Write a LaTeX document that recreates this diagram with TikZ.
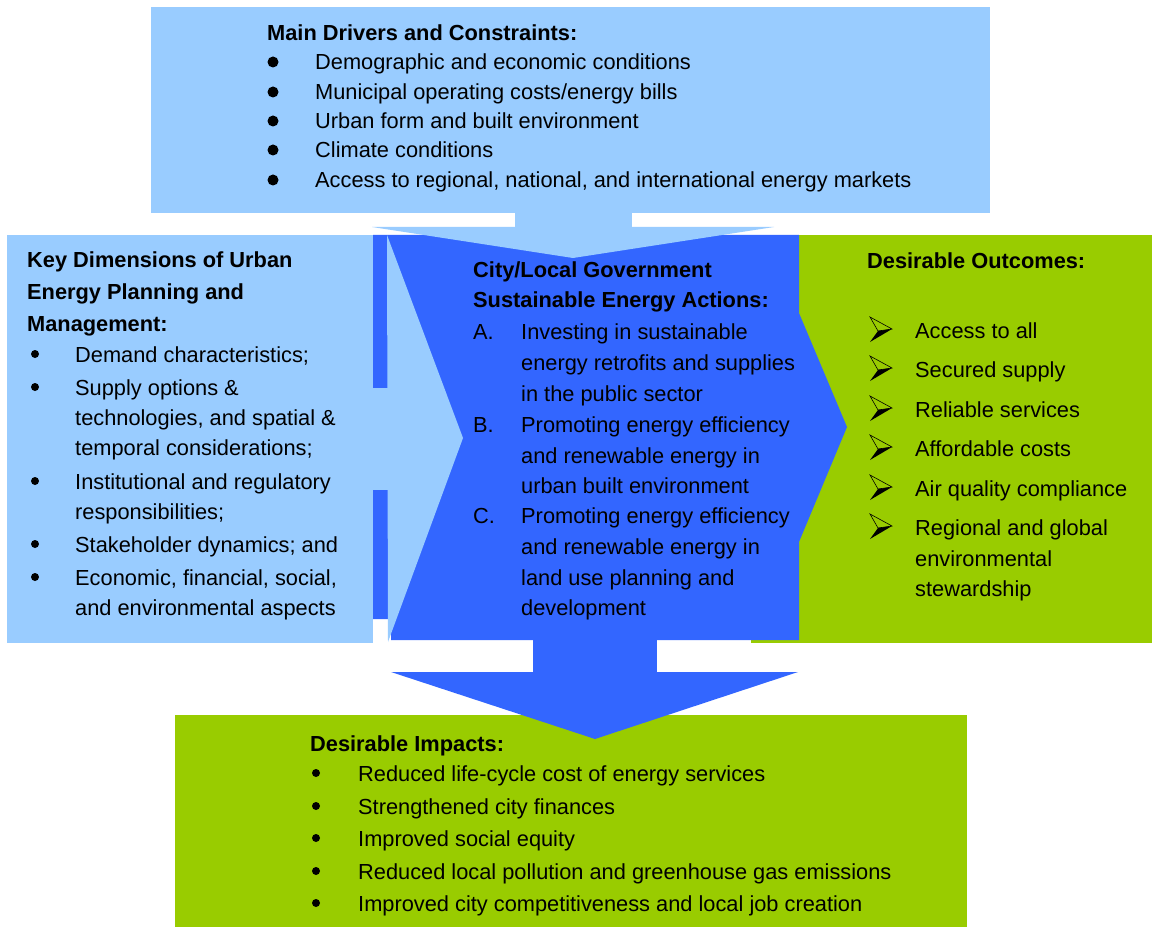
\documentclass[tikz,border=0pt]{standalone}
\usepackage{fontspec}
\setmainfont{Liberation Sans}
\definecolor{lblue}{HTML}{99CCFF}
\definecolor{dblue}{HTML}{3366FF}
\definecolor{lgreen}{HTML}{99CC00}
\begin{document}
\begin{tikzpicture}[x=1pt,y=-1pt,
  txt/.style={anchor=base west,inner sep=0pt,font=\fontsize{21.8}{26}\selectfont},
  hd/.style={txt,font=\fontsize{21.8}{26}\selectfont\bfseries},
  bigdot/.style={fill=black,draw=none},
  ]
\useasboundingbox (0,0) rectangle (1152,928);
\fill[white] (0,0) rectangle (1152,928);
% top box and stem
\fill[lblue] (151,7) rectangle (990,213);
\fill[lblue] (515,212) rectangle (632,228);
% right green box
\fill[lgreen] (751,235) rectangle (1152,643);
% left box
\fill[lblue] (7,235) rectangle (373,643);
% centre blue with right arrow
\fill[dblue] (373,235) -- (799,235) -- (799,313) -- (847,427) -- (799,542) -- (799,640)
  -- (391,640) -- (391,619) -- (373,619) -- cycle;
% left arrow
\fill[lblue] (372,388) rectangle (388,490);
\fill[lblue] (387,235) -- (463,438) -- (388,642) -- cycle;
% top arrow head
\fill[lblue] (372,227) -- (774,227) -- (573,258) -- cycle;
% bottom box
\fill[lgreen] (175,715) rectangle (967,927);
% bottom arrow
\fill[dblue] (533,639) rectangle (657,673);
\fill[dblue] (391,672) -- (798,672) -- (595,739) -- cycle;

% ---- top text
\node[hd] (th) at (267,41) {Main Drivers and Constraints:};
\foreach \y/\t [count=\i] in {70/Demographic and economic conditions,
  100/Municipal operating costs\slash energy bills,
  129/Urban form and built environment,
  158/Climate conditions,
  188/{Access to regional, national, and international energy markets}}{
  \fill[bigdot] (273,\y-8) circle (5.5);
  \node[txt] (top\i) at (315,\y) {\t};
}
% ---- left text
\node[hd] (lh1) at (27,268) {Key Dimensions of Urban};
\node[hd] (lh2) at (27,299) {Energy Planning and};
\node[hd] (lh3) at (27,331) {Management:};
\foreach \y in {362,395,489,552,585}{\fill[bigdot] (35,\y-8) circle (4);}
\node[txt] (l1) at (75,362) {Demand characteristics;};
\node[txt] (l2) at (75,395) {Supply options \&};
\node[txt] (l3) at (75,425) {technologies, and spatial \&};
\node[txt] (l4) at (75,455) {temporal considerations;};
\node[txt] (l5) at (75,489) {Institutional and regulatory};
\node[txt] (l6) at (75,519) {responsibilities;};
\node[txt] (l7) at (75,552) {Stakeholder dynamics; and};
\node[txt] (l8) at (75,585) {Economic, financial, social,};
\node[txt] (l9) at (75,615) {and environmental aspects};
% ---- centre text
\node[hd] (ch1) at (473,278) {City/Local Government};
\node[hd] (ch2) at (473,308) {Sustainable Energy Actions:};
\node[txt] (ca) at (473,339) {A.};
\node[txt] (c1) at (521,339) {Investing in sustainable};
\node[txt] (c2) at (521,370) {energy retrofits and supplies};
\node[txt] (c3) at (521,401) {in the public sector};
\node[txt] (cb) at (473,432) {B.};
\node[txt] (c4) at (521,432) {Promoting energy efficiency};
\node[txt] (c5) at (521,463) {and renewable energy in};
\node[txt] (c6) at (521,493) {urban built environment};
\node[txt] (cc) at (473,523) {C.};
\node[txt] (c7) at (521,523) {Promoting energy efficiency};
\node[txt] (c8) at (521,554) {and renewable energy in};
\node[txt] (c9) at (521,585) {land use planning and};
\node[txt] (c10) at (521,615) {development};
% ---- right text
\node[hd] (rh) at (867,269) {Desirable Outcomes:};
\foreach \y in {338,377,417,456,496,535}{
  \draw[black,line width=0.6pt,line join=miter] (870,\y-21) -- (892,\y-9) -- (878,\y-7) -- cycle;
  \fill[black] (878,\y-7) -- (892,\y-9) -- (870,\y+4) -- cycle;
}
\node[txt] (r1) at (915,338) {Access to all};
\node[txt] (r2) at (915,377) {Secured supply};
\node[txt] (r3) at (915,417) {Reliable services};
\node[txt] (r4) at (915,456) {Affordable costs};
\node[txt] (r5) at (915,496) {Air quality compliance};
\node[txt] (r6) at (915,535) {Regional and global};
\node[txt] (r7) at (915,566) {environmental};
\node[txt] (r8) at (915,596) {stewardship};
% ---- bottom text
\node[hd] (bh) at (310,751) {Desirable Impacts:};
\foreach \y/\t [count=\i] in {781/Reduced life-cycle cost of energy services,
  814/Strengthened city finances,
  846/Improved social equity,
  879/Reduced local pollution and greenhouse gas emissions,
  911/Improved city competitiveness and local job creation}{
  \fill[bigdot] (316,\y-8) circle (4);
  \node[txt] (bot\i) at (358,\y) {\t};
}
\end{tikzpicture}
\end{document}
